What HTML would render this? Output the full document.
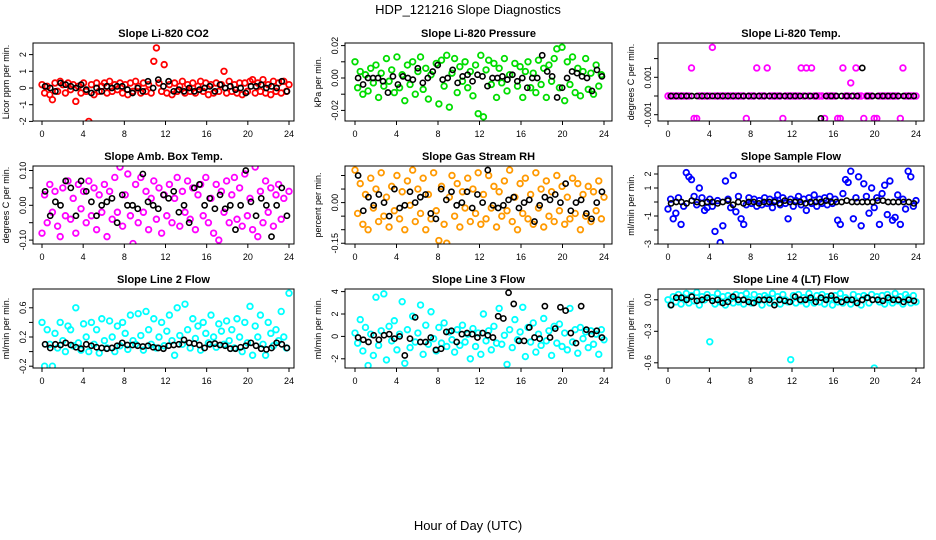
<!DOCTYPE html>
<html><head><meta charset="utf-8"><style>
body{margin:0;background:#fff;width:936px;height:540px;overflow:hidden}
svg{display:block;font-family:"Liberation Sans",sans-serif}
</style></head><body>
<svg id="c" width="936" height="540">
<text x="468" y="14" text-anchor="middle" font-size="13">HDP_121216  Slope Diagnostics</text>
<text x="468" y="530" text-anchor="middle" font-size="13">Hour of Day (UTC)</text>
</svg>
<script>
const hourTicks=[0,4,8,12,16,20,24];
const co2Color=[0.2,-0.3,0.1,-0.4,-0.7,0.3,-0.2,0.4,0.2,-0.3,0.3,-0.1,0.2,-0.8,0.1,-0.3,0.3,-0.2,-2.0,0.2,-0.4,0.3,-0.2,0.1,0.3,-0.3,0.4,-0.2,0.2,-0.1,0.3,-0.3,0.2,-0.4,0.3,-0.2,0.4,0.1,-0.3,0.3,-0.2,0.2,-0.3,1.6,2.4,0.3,-0.2,1.4,-0.3,0.2,-0.4,0.3,-0.2,0.1,0.4,-0.3,0.2,-0.2,0.3,-0.3,0.1,0.4,-0.2,0.3,-0.4,0.2,-0.3,0.3,-0.2,0.2,1.0,-0.3,0.4,-0.2,0.2,-0.3,0.3,-0.4,0.3,-0.2,0.4,0.5,-0.3,0.3,-0.2,0.5,-0.3,0.2,-0.4,0.4,-0.2,0.3,-0.3,0.4,-0.2,0.2];
const co2Black=[0.1,0.0,-0.2,0.3,0.2,0.1,0.0,0.2,-0.1,-0.3,0.0,-0.2,0.1,0.0,0.1,0.1,-0.1,-0.3,0.0,-0.2,0.4,0.0,0.5,0.1,0.4,-0.2,-0.1,-0.2,0.0,-0.2,-0.1,0.0,0.1,-0.2,0.2,0.0,0.1,-0.1,0.0,-0.3,0.1,0.1,0.2,0.0,0.1,0.0,0.4,-0.2];
const presColor=[0.01,-0.006,0.004,-0.01,0.002,-0.008,0.006,-0.003,0.008,-0.012,0.003,-0.005,0.012,-0.002,0.005,-0.009,0.013,-0.006,0.002,-0.014,0.008,-0.004,0.01,-0.01,0.004,0.013,-0.007,0.006,-0.013,0.002,-0.031,0.009,-0.016,0.011,-0.005,0.014,-0.018,0.003,0.012,-0.009,0.007,-0.002,0.01,-0.006,0.004,-0.011,0.008,-0.022,0.014,-0.024,0.005,0.011,-0.004,0.009,-0.012,0.006,-0.003,0.012,-0.008,0.002,-0.03,0.009,-0.005,0.007,-0.012,0.004,0.01,-0.006,0.003,-0.009,0.011,-0.004,0.006,-0.012,0.008,-0.002,0.012,0.018,-0.006,0.019,-0.014,0.01,-0.004,0.013,-0.009,0.006,-0.011,0.004,0.012,-0.007,0.003,-0.01,0.008,-0.005,0.002,-0.03];
const presBlack=[0.0,-0.004,0.0,0.0,0.0,-0.002,-0.009,0.001,-0.004,0.001,0.0,-0.001,0.006,-0.003,0.0,0.004,0.008,-0.001,0.0,0.005,-0.003,0.001,0.002,-0.002,0.002,0.001,-0.005,0.0,0.0,0.001,-0.001,0.002,-0.002,0.0,-0.006,0.0,0.0,0.014,0.004,0.001,-0.012,-0.006,0.0,0.004,0.003,0.001,0.0,-0.008,0.005,0.001];
const licTempColor=[0,0,0,0,0,0,0,0,0,0.0015,-0.0012,-0.0012,0,0,0,0,0,0.0026,0,0,0,0,0,0,0,0,0,0,0,0,-0.0012,0,0,0,0.0015,0,0,0,0.0015,0,0,0,0,0,-0.0012,0,0,0,0,0,0,0.0015,0,0.0015,0,0.0015,0,0,0,0,-0.0012,0,0,0,0,-0.0012,-0.0012,0.0015,0,0,0.0007,0,0.0015,0,0,-0.0012,0,0,0,-0.0012,-0.0012,0,0,0,0,0,0,0,0,-0.0012,0.0015,0,0,0,0,0];
const licTempBlack=[0,0,0,0,0,0,0,0,0,0,0,0,0,0,0,0,0,0,0,0,0,0,0,0,0,0,0,0,0,-0.0012,0,0,0,0,0,0,0,0.0015,0,0,0,0,0,0,0,0,0,0];
const boxTempColor=[-0.08,0.03,-0.05,0.06,-0.02,0.04,-0.06,-0.09,0.05,-0.03,0.07,-0.04,0.02,-0.08,0.06,-0.01,0.04,-0.05,0.07,-0.03,0.05,-0.07,0.03,-0.02,0.06,-0.09,0.04,-0.04,0.08,-0.02,0.11,-0.06,0.03,0.09,-0.03,-0.11,0.06,-0.05,0.08,-0.02,0.04,-0.07,0.02,0.07,-0.04,0.05,-0.08,0.03,-0.03,0.06,-0.05,0.02,0.08,-0.06,0.04,-0.02,0.07,-0.04,0.05,-0.07,0.03,0.06,-0.03,0.08,-0.05,0.02,-0.08,0.06,-0.1,0.04,-0.02,0.07,-0.05,0.03,0.08,-0.04,0.05,-0.06,0.09,-0.03,0.02,-0.07,0.11,-0.09,0.04,-0.05,0.07,-0.02,0.05,-0.06,0.03,0.06,-0.04,0.02,-0.12,0.04];
const boxTempBlack=[0.04,-0.03,0.01,0.0,0.07,0.05,-0.03,0.07,0.04,0.01,-0.03,0.0,0.01,0.02,-0.05,0.03,0.0,0.0,-0.01,0.09,0.01,0.0,-0.01,0.03,0.02,0.04,-0.02,0.0,-0.05,0.05,0.06,0.0,0.02,-0.01,0.03,-0.01,0.0,-0.07,0.0,0.1,0.01,-0.03,0.02,0.0,-0.09,0.0,0.05,-0.03];
const rhColor=[0.12,-0.04,0.07,-0.08,0.03,-0.1,0.09,-0.02,0.05,-0.07,0.11,-0.05,0.02,-0.09,0.06,-0.03,0.1,-0.06,0.04,-0.1,0.08,-0.01,0.12,-0.07,0.05,-0.04,0.09,-0.1,0.03,-0.06,0.11,-0.03,-0.14,0.06,-0.08,-0.15,0.02,0.1,-0.05,0.07,-0.09,0.04,-0.02,0.09,-0.07,0.05,-0.04,0.11,-0.08,0.03,-0.06,0.1,-0.02,0.06,-0.09,0.04,-0.05,0.08,-0.03,0.12,-0.07,0.02,-0.1,0.07,-0.04,0.09,-0.06,0.03,-0.08,0.11,-0.02,0.05,-0.09,0.08,-0.05,0.04,-0.07,0.1,-0.03,0.06,-0.08,0.02,-0.06,0.09,-0.04,0.07,-0.1,0.03,-0.05,0.06,-0.07,0.04,-0.03,0.08,-0.06,0.02];
const rhBlack=[0.1,-0.03,0.02,-0.01,0.03,0.0,-0.05,0.05,-0.02,-0.01,0.04,0.0,0.02,0.03,-0.04,-0.06,0.05,0.01,0.04,-0.01,0.0,0.04,-0.02,0.03,0.0,0.12,-0.01,-0.02,-0.01,0.01,0.02,-0.02,0.0,0.01,-0.07,-0.01,0.02,0.01,0.03,0.0,0.07,-0.03,0.0,0.01,-0.04,-0.06,0.0,0.04];
const sampColor=[-0.5,0.2,-1.2,-0.8,0.3,-1.6,-0.3,2.1,1.8,1.6,0.4,-0.2,1.0,0.3,-0.6,-0.4,0.2,-0.3,-2.1,0.1,-2.9,-1.7,1.5,0.2,-0.4,1.9,-0.7,0.4,-1.2,-1.6,-0.2,0.3,-0.1,0.2,-0.3,0.1,-0.2,0.3,-0.1,0.2,-0.4,0.1,0.5,-0.2,0.3,-0.1,-1.2,0.2,-0.3,0.1,0.4,-0.2,0.2,-0.6,0.3,-0.1,0.5,-0.3,0.2,-0.1,0.3,-0.2,0.4,-0.1,0.2,-1.3,-1.6,0.6,1.6,1.4,2.2,-1.2,0.3,1.8,-1.7,1.3,0.4,-0.8,1.0,-0.4,0.3,-1.6,0.6,1.2,-0.9,1.5,-1.3,-1.1,0.5,-1.6,0.2,-0.5,2.2,1.8,-0.3,0.1];
const sampBlack=[-0.1,0.0,0.0,-0.1,0.1,0.0,-0.1,0.0,0.0,-0.1,0.0,0.1,-0.2,0.0,-0.1,0.0,0.0,-0.1,0.0,0.0,0.0,-0.1,0.1,0.0,0.0,0.0,-0.1,0.0,0.0,0.0,0.1,0.0,0.0,0.0,0.1,0.0,0.0,0.0,0.0,0.0,0.1,0.1,0.0,0.0,0.0,0.0,0.0,-0.1];
const line2Color=[0.4,-0.2,0.3,0.1,-0.2,0.25,0.05,0.4,0.15,0.0,0.35,0.3,0.08,0.6,0.12,0.02,0.38,0.2,0.0,0.4,0.1,0.3,-0.02,0.45,0.15,0.05,0.42,0.2,0.0,0.35,0.08,0.4,0.25,0.03,0.5,0.15,0.1,0.52,0.22,0.02,0.55,0.3,0.1,0.45,0.05,0.2,0.4,0.08,0.28,0.5,0.15,-0.05,0.6,0.22,0.1,0.65,0.3,0.05,0.45,0.18,0.35,0.02,0.4,0.25,0.12,0.5,0.2,0.06,0.38,0.28,0.1,0.42,0.15,0.3,0.05,0.45,0.2,0.0,0.4,0.12,0.62,-0.05,0.35,0.2,0.5,0.1,-0.05,0.4,0.25,0.08,0.3,0.15,0.55,0.2,0.05,0.8];
const line2Black=[0.1,0.05,0.1,0.09,0.12,0.09,0.06,0.04,0.1,0.08,0.06,0.05,0.04,0.05,0.08,0.12,0.09,0.09,0.08,0.07,0.08,0.06,0.05,0.04,0.08,0.09,0.1,0.16,0.12,0.11,0.09,0.05,0.1,0.11,0.09,0.08,0.04,0.04,0.06,0.08,0.12,0.08,0.04,0.03,0.05,0.12,0.1,0.05];
const line3Color=[0.3,-0.6,1.5,-1.3,0.8,-2.6,0.2,-1.7,3.5,-0.8,0.5,3.8,-2.1,0.9,-0.4,1.4,-1.2,0.2,3.1,-2.4,0.6,-1.0,1.8,-0.5,0.3,2.8,-1.6,1.0,-0.7,2.2,-0.2,-1.3,0.8,-0.6,1.2,-0.9,0.4,-0.3,-1.4,0.6,-0.8,1.0,-0.5,0.2,-2.0,0.7,-0.9,0.3,-1.6,2.0,-0.4,0.5,-1.2,0.9,-0.6,2.5,-0.7,0.1,-2.5,0.6,-1.0,1.5,-0.3,0.4,2.6,-1.8,0.8,-0.5,1.2,-1.4,0.2,-0.8,1.6,-0.4,0.5,-1.7,0.9,-0.6,1.1,-0.9,0.3,-1.2,2.5,-0.5,0.6,-1.5,0.8,-0.2,0.4,-1.0,0.5,-0.7,0.2,-1.6,0.6,-0.3];
const line3Black=[-0.1,-0.3,-0.5,0.1,-0.3,0.1,0.2,-0.2,0.0,-1.7,-0.2,1.7,-0.5,-0.5,-0.1,-1.2,-1.1,0.4,0.5,-0.5,0.2,0.3,0.2,-0.1,0.3,0.1,-0.1,1.8,1.6,3.9,2.9,-0.4,-0.4,0.8,-0.1,-0.2,2.7,-0.1,0.7,2.6,2.3,0.3,-0.6,2.7,0.6,0.2,0.5,-0.1];
const line4Color=[0.0,-0.05,0.03,-0.02,0.05,-0.04,0.02,0.06,-0.03,0.04,-0.01,0.07,-0.05,0.03,0.0,0.05,-0.4,0.02,-0.04,0.06,-0.02,0.03,-0.05,0.04,0.01,-0.03,0.05,-0.02,0.04,-0.04,0.06,0.0,-0.03,0.05,-0.01,0.03,-0.05,0.04,0.02,-0.03,0.06,-0.02,0.03,-0.04,0.05,0.0,-0.02,-0.57,0.04,-0.03,0.05,-0.01,0.02,-0.04,0.06,0.0,-0.03,0.04,-0.02,0.05,-0.04,0.03,0.01,-0.05,0.04,-0.02,0.06,-0.03,0.02,0.0,-0.04,0.05,-0.01,0.03,-0.05,0.04,0.02,-0.03,0.05,-0.65,0.03,-0.02,0.04,-0.04,0.05,0.0,-0.03,0.06,-0.01,0.03,-0.04,0.05,0.02,-0.03,0.04,-0.02];
const line4Black=[-0.05,0.02,0.02,0.0,0.03,-0.01,0.0,0.02,-0.01,0.0,-0.03,-0.02,0.03,0.0,0.0,-0.02,-0.03,0.0,0.0,0.0,-0.05,0.0,-0.01,-0.02,0.03,0.0,0.0,0.02,-0.02,0.02,0.0,0.04,0.0,-0.02,0.0,0.0,-0.03,0.0,0.02,0.0,0.0,-0.01,0.02,0.0,0.0,-0.02,0.0,-0.01];

const panels=[
 {id:'co2',title:'Slope Li-820 CO2',yl:'Licor ppm per min.',box:[33,43,294,121],x0:42,x1:289,yz:88,ys:16.7,ticks:[-2,-1,0,1,2],labs:['-2','-1','0','1','2'],col:'#ff0000',c:co2Color,b:co2Black},
 {id:'pressure',title:'Slope Li-820 Pressure',yl:'kPa per min.',box:[345,43,612,121],x0:355,x1:604,yz:78,ys:1620,ticks:[-0.02,-0.01,0,0.01,0.02],labs:['-0.02','','0.00','','0.02'],col:'#00dd00',c:presColor,b:presBlack},
 {id:'licor-temp',title:'Slope Li-820 Temp.',yl:'degrees C per min.',box:[658,43,924,121],x0:668,x1:916,yz:96,ys:18700,ticks:[-0.001,0,0.001,0.002],labs:['-0.001','','0.001',''],col:'#ff00ff',c:licTempColor,b:licTempBlack},
 {id:'box-temp',title:'Slope Amb. Box Temp.',yl:'degrees C per min.',box:[33,166,294,244],x0:42,x1:289,yz:205.3,ys:348,ticks:[-0.1,-0.05,0,0.05,0.1],labs:['-0.10','','0.00','','0.10'],col:'#ff00ff',c:boxTempColor,b:boxTempBlack},
 {id:'rh',title:'Slope Gas Stream RH',yl:'percent per min.',box:[345,166,612,244],x0:355,x1:604,yz:202.6,ys:271,ticks:[-0.15,-0.1,-0.05,0,0.05,0.1],labs:['-0.15','','','0.00','',''],col:'#ff9900',c:rhColor,b:rhBlack},
 {id:'sample-flow',title:'Slope Sample Flow',yl:'ml/min per min.',box:[658,166,924,244],x0:668,x1:916,yz:202,ys:14,ticks:[-3,-2,-1,0,1,2],labs:['-3','','-1','','1','2'],col:'#0000ff',c:sampColor,b:sampBlack},
 {id:'line2-flow',title:'Slope Line 2 Flow',yl:'ml/min per min.',box:[33,289,294,368],x0:42,x1:289,yz:351.6,ys:73,ticks:[-0.2,0,0.2,0.4,0.6],labs:['-0.2','','0.2','','0.6'],col:'#00ffff',c:line2Color,b:line2Black},
 {id:'line3-flow',title:'Slope Line 3 Flow',yl:'ml/min per min.',box:[345,289,612,368],x0:355,x1:604,yz:336.4,ys:11.2,ticks:[-2,0,2,4],labs:['-2','0','2','4'],col:'#00ffff',c:line3Color,b:line3Black},
 {id:'line4-flow',title:'Slope Line 4 (LT) Flow',yl:'ml/min per min.',box:[658,289,924,368],x0:668,x1:916,yz:299.8,ys:105,ticks:[-0.6,-0.3,0],labs:['-0.6','-0.3','0.0'],col:'#00ffff',c:line4Color,b:line4Black}
];
const NS='http://www.w3.org/2000/svg',svg=document.getElementById('c');
function mk(t,a,p){const e=document.createElementNS(NS,t);for(const k in a)e.setAttribute(k,a[k]);(p||svg).appendChild(e);return e;}
panels.forEach(p=>{
 const g=mk('g',{});
 
 
 const [l,t,r,b]=p.box;
 const X=h=>p.x0+(p.x1-p.x0)*h/24, Y=v=>p.yz-v*p.ys;
 const tt=mk('text',{x:(l+r)/2,y:t-6,'text-anchor':'middle','font-size':11,'font-weight':'bold'},g);tt.textContent=p.title;
 
 
 const yl=mk('text',{x:0,y:0,transform:`translate(${l-24},${(t+b)/2}) rotate(-90)`,'text-anchor':'middle','font-size':9},g);yl.textContent=p.yl;
 
 
 const cl=mk('clipPath',{id:'cl'+p.id},g);mk('rect',{x:l,y:t,width:r-l,height:b-t},cl);
 const pts=mk('g',{'clip-path':`url(#cl${p.id})`},g);
 const n=p.c.length;
 p.c.forEach((v,i)=>{const c=mk('circle',{cx:X(i*24/(n-1)),cy:Y(v),r:2.8,fill:'none',stroke:p.col,'stroke-width':1.8},pts);
  
  });
 const m=p.b.length;
 p.b.forEach((v,i)=>{const c=mk('circle',{cx:X(0.3+i*23.5/(m-1)),cy:Y(v),r:2.6,fill:'none',stroke:'#000','stroke-width':1.6},pts);
  
  });
 mk('rect',{x:l,y:t,width:r-l,height:b-t,fill:'none',stroke:'#000','stroke-width':1},g);
 hourTicks.forEach(h=>{mk('line',{x1:X(h),x2:X(h),y1:b,y2:b+4,stroke:'#000'},g);
  const tx=mk('text',{x:X(h),y:b+16,'text-anchor':'middle','font-size':9},g);tx.textContent=h;
  
  });
 p.ticks.forEach((v,i)=>{mk('line',{x1:l-4,x2:l,y1:Y(v),y2:Y(v),stroke:'#000'},g);
  if(p.labs[i]){const tx=mk('text',{x:0,y:0,transform:`translate(${l-7},${Y(v)}) rotate(-90)`,'text-anchor':'middle','font-size':9},g);tx.textContent=p.labs[i];
  
  }});
});
</script>
</body></html>
